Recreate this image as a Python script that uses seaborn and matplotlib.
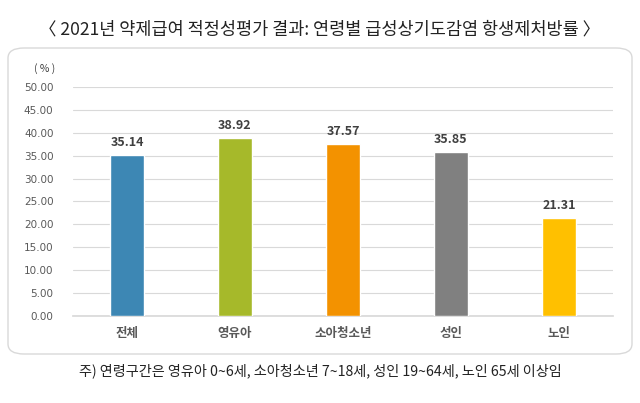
import matplotlib.pyplot as plt
import pandas as pd
import seaborn as sns
from matplotlib.patches import FancyBboxPatch

# --- data ---
groups = ["전체", "영유아", "소아청소년", "성인", "노인"]
rates = [35.14, 38.92, 37.57, 35.85, 21.31]
bar_colors = ["#3D87B4", "#A6B92A", "#F39200", "#808080", "#FFC000"]
yticks = [0, 5, 10, 15, 20, 25, 30, 35, 40, 45, 50]

title = "〈 2021년 약제급여 적정성평가 결과: 연령별 급성상기도감염 항생제처방률 〉"
note = "주) 연령구간은 영유아 0~6세, 소아청소년 7~18세, 성인 19~64세, 노인 65세 이상임"

sns.set_theme(style="white")
plt.rcParams["font.family"] = ["Noto Sans CJK KR", "DejaVu Sans"]

df = pd.DataFrame({"group": groups, "rate": rates})

fig = plt.figure(figsize=(6.4, 4.03), dpi=100)

# rounded frame around the chart area (outline only, drawn behind the axes)
frame = FancyBboxPatch((8 / 640, 1 - 354 / 403), 624 / 640, 306 / 403,
                       boxstyle="round,pad=0,rounding_size=0.025",
                       transform=fig.transFigure, facecolor="none",
                       edgecolor="#d9d9d9", linewidth=1.0, zorder=-1)
fig.patches.append(frame)

ax = fig.add_axes([73 / 640, 1 - 316 / 403, 540 / 640, 229 / 403])
ax.set_facecolor("none")

sns.barplot(data=df, x="group", y="rate", hue="group", palette=bar_colors,
            width=0.31, legend=False, ax=ax, zorder=3, saturation=1)

for i, v in enumerate(rates):
    ax.text(i, v + 1.3, f"{v:.2f}", ha="center", va="bottom",
            fontsize=9, fontweight="bold", color="#404040")

ax.set_ylim(0, 50)
ax.set_yticks(yticks)
ax.set_yticklabels([f"{t:.2f}" for t in yticks], fontsize=7.5, color="#595959",
                   family="DejaVu Sans")
ax.tick_params(axis="x", labelsize=9, colors="#595959", length=0, pad=8)
for lab in ax.get_xticklabels():
    lab.set_fontweight("bold")
ax.tick_params(axis="y", length=0, pad=14)
ax.yaxis.grid(True, color="#d9d9d9", linewidth=0.8, zorder=0)
ax.set_axisbelow(True)
for s in ["top", "right", "left"]:
    ax.spines[s].set_visible(False)
ax.spines["bottom"].set_color("#d9d9d9")
ax.set_xlabel("")
ax.set_ylabel("")

fig.text(45 / 640, 1 - 69 / 403, "( % )", ha="center", va="center",
         fontsize=7.5, color="#404040")
fig.text(0.5, 1 - 30 / 403, title, ha="center", va="center",
         fontsize=12.6, color="#222222")
fig.text(0.5, 1 - 371 / 403, note, ha="center", va="center",
         fontsize=10.2, color="#222222")

fig.savefig("out.png", dpi=100)
